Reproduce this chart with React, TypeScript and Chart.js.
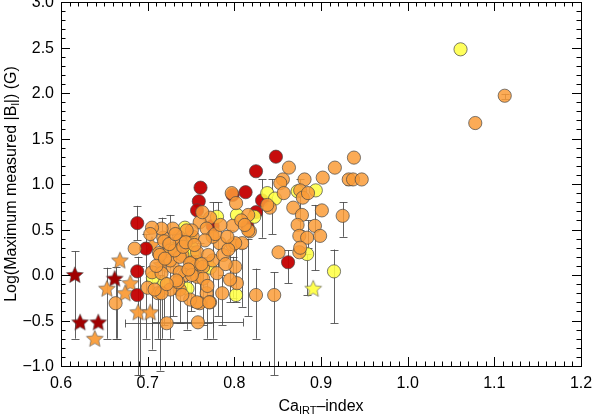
import React, { useEffect, useRef } from "react";
import { Chart, registerables } from "chart.js";

Chart.register(...registerables);

// ---- data (Ca_IRT-index, log max |B_l|) ----
const orangeX = [1.112, 1.078, 0.825, 0.846, 0.851, 0.875, 0.863, 0.856, 0.853, 0.857, 0.881, 0.876, 0.879, 0.885, 0.902, 0.916, 0.938, 0.932, 0.937, 0.947, 0.868, 0.878, 0.901, 0.925, 0.873, 0.893, 0.875, 0.884, 0.899, 0.876, 0.841, 0.818, 0.838, 0.797, 0.802, 0.816, 0.798, 0.816, 0.798, 0.809, 0.783, 0.772, 0.760, 0.763, 0.768, 0.775, 0.752, 0.736, 0.718, 0.729, 0.716, 0.705, 0.685, 0.663, 0.722, 0.758, 0.719, 0.737, 0.751, 0.713, 0.726, 0.740, 0.751, 0.729, 0.705, 0.716, 0.743, 0.755, 0.757, 0.726, 0.737, 0.749, 0.764, 0.775, 0.787, 0.801, 0.803, 0.795, 0.786, 0.768, 0.772, 0.760, 0.749, 0.737, 0.726, 0.712, 0.700, 0.714, 0.731, 0.741, 0.757, 0.770, 0.801, 0.780, 0.764, 0.751, 0.737, 0.735, 0.740, 0.757, 0.771, 0.716, 0.708, 0.745, 0.733, 0.747, 0.762, 0.790, 0.793, 0.722, 0.710, 0.725, 0.778, 0.784, 0.766, 0.744, 0.732, 0.720, 0.792, 0.808, 0.812, 0.703, 0.754, 0.769];
const orangeY = [1.97, 1.67, -0.22, -0.22, 0.25, 0.25, 1.18, 1.05, 1.01, 0.90, 1.05, 0.93, 0.85, 0.90, 1.07, 1.18, 1.29, 1.05, 1.05, 1.05, 0.74, 0.66, 0.71, 0.65, 0.55, 0.54, 0.43, 0.41, 0.43, 0.30, 0.74, 0.48, 0.77, 0.90, 0.79, 0.66, 0.54, 0.49, 0.33, 0.35, 0.35, 0.63, 0.58, 0.69, 0.51, 0.42, 0.42, 0.42, 0.41, 0.51, 0.51, 0.52, 0.29, -0.31, -0.53, -0.52, 0.37, 0.38, 0.49, 0.24, 0.27, 0.22, 0.14, 0.09, 0.03, 0.02, 0.00, 0.09, -0.02, 0.16, 0.20, 0.13, 0.09, 0.16, 0.22, 0.09, -0.09, -0.05, -0.20, -0.20, -0.30, -0.31, -0.27, -0.16, -0.16, -0.20, -0.14, 0.22, 0.27, 0.31, 0.25, 0.22, 0.35, 0.02, -0.04, 0.00, 0.03, -0.08, -0.22, -0.30, -0.30, -0.20, -0.16, 0.49, -0.06, 0.06, 0.12, 0.12, 0.28, -0.10, 0.10, 0.34, 0.45, 0.55, 0.38, 0.36, 0.45, 0.18, 0.42, 0.60, 0.55, 0.45, 0.33, -0.12];

const yellowX = [1.061, 0.915, 0.884, 0.838, 0.847, 0.873, 0.894, 0.823, 0.803, 0.780, 0.743, 0.749, 0.727, 0.719, 0.746, 0.802, 0.706, 0.751, 0.752, 0.756, 0.772];
const yellowY = [2.48, 0.04, 0.23, 0.90, 0.84, 0.92, 0.93, 0.64, 0.66, 0.64, 0.52, 0.41, 0.29, -0.09, -0.15, -0.22, -0.03, 0.30, 0.24, 0.14, 0.08];

const redX = [0.688, 0.698, 0.688, 0.688, 0.761, 0.759, 0.757, 0.775, 0.798, 0.813, 0.815, 0.825, 0.832, 0.825, 0.848, 0.862];
const redY = [0.57, 0.29, 0.04, -0.22, 0.96, 0.81, 0.71, 0.54, 0.88, 0.91, 0.54, 1.14, 0.82, 0.69, 1.30, 0.14];

const orangeStarX = [0.668, 0.653, 0.680, 0.674, 0.689, 0.703, 0.705, 0.639, 0.716];
const orangeStarY = [0.16, -0.15, -0.09, -0.20, -0.41, -0.41, 0.33, -0.70, 0.11];

const redStarX = [0.616, 0.622, 0.643, 0.662];
const redStarY = [0.00, -0.52, -0.52, -0.04];

const yellowStarX = [0.891];
const yellowStarY = [-0.15];

// vertical error bars: x, lower end, upper end
const errX = [0.616, 0.653, 0.663, 0.665, 0.688, 0.689, 0.691, 0.698, 0.705, 0.712, 0.714, 0.716, 0.719, 0.726, 0.737, 0.745, 0.755, 0.760, 0.768, 0.775, 0.781, 0.786, 0.795, 0.798, 0.802, 0.809, 0.816, 0.825, 0.846, 0.832, 0.843, 0.862, 0.884, 0.893, 0.885, 0.915, 0.925, 0.876, 0.932, 1.112, 0.729, 0.750, 0.764];
const errLow = [-0.70, -0.70, -0.70, -0.70, 0.38, -1.10, -1.10, -0.70, -0.82, -0.70, -1.05, -0.70, -0.55, -0.70, -0.53, -0.60, -0.35, -0.35, -0.70, -0.70, -0.45, -0.55, -0.30, -0.25, -0.30, -0.35, -0.45, -0.70, -1.10, 0.41, 0.45, -0.09, -0.22, 0.05, 0.30, -0.53, 0.42, 0.50, 0.99, 1.93, -0.45, -0.40, -0.55];
const errHigh = [0.26, 0.08, 0.09, -0.05, 0.76, 0.20, 0.10, 0.45, 0.10, 0.05, 0.00, 0.63, 0.20, 0.66, 0.10, 0.30, 0.20, 0.35, 0.20, 0.80, 0.80, 0.00, 0.50, 0.20, 0.40, 0.30, 0.40, 0.07, 0.03, 1.05, 1.05, 0.27, 0.23, 0.77, 0.60, 0.28, 0.80, 1.05, 1.11, 1.99, 0.10, 0.05, 0.15];

// horizontal error bars: y, left end, right end
const hErrY = [-0.53, -0.52];
const hErrLeft = [0.674, 0.705];
const hErrRight = [0.775, 0.810];

const xTickLabels = ["0.6", "0.7", "0.8", "0.9", "1.0", "1.1", "1.2"];
const yTickLabels = ["\u22121.0", "\u22120.5", "0.0", "0.5", "1.0", "1.5", "2.0", "2.5", "3.0"];

const ORANGE = "rgba(250,156,56,0.85)";
const YELLOW = "rgba(255,255,70,0.88)";
const RED = "rgba(196,0,0,0.95)";
const EDGE = "rgba(70,70,70,0.7)";
const FONT = "'Liberation Sans', Arial, sans-serif";
const FS = 16;
const SUB = 11;

function makeStar(fill: string): HTMLCanvasElement {
  const c = document.createElement("canvas");
  c.width = 20;
  c.height = 20;
  const ctx = c.getContext("2d")!;
  ctx.beginPath();
  const cx = 10, cy = 10.5, ro = 8.8, ri = 4.1;
  for (let i = 0; i < 10; i++) {
    const r = i % 2 === 0 ? ro : ri;
    const a = -Math.PI / 2 + (i * Math.PI) / 5;
    const px = cx + r * Math.cos(a);
    const py = cy + r * Math.sin(a);
    if (i === 0) ctx.moveTo(px, py);
    else ctx.lineTo(px, py);
  }
  ctx.closePath();
  ctx.fillStyle = fill;
  ctx.fill();
  ctx.strokeStyle = EDGE;
  ctx.lineWidth = 0.8;
  ctx.stroke();
  return c;
}

const pts = (xs: number[], ys: number[]) => xs.map((x, i) => ({ x, y: ys[i] }));

const framePlugin = {
  id: "idlFrame",
  beforeDatasetsDraw(chart: any) {
    const { ctx, scales } = chart;
    const xs = scales.x, ys = scales.y;
    ctx.save();
    ctx.strokeStyle = "rgba(70,70,70,0.85)";
    ctx.lineWidth = 1;
    const cap = 4;
    for (let i = 0; i < errX.length; i++) {
      const px = Math.round(xs.getPixelForValue(errX[i])) + 0.5;
      const p1 = ys.getPixelForValue(errLow[i]);
      const p2 = ys.getPixelForValue(errHigh[i]);
      ctx.beginPath();
      ctx.moveTo(px, p1);
      ctx.lineTo(px, p2);
      ctx.moveTo(px - cap, Math.round(p1) + 0.5);
      ctx.lineTo(px + cap, Math.round(p1) + 0.5);
      ctx.moveTo(px - cap, Math.round(p2) + 0.5);
      ctx.lineTo(px + cap, Math.round(p2) + 0.5);
      ctx.stroke();
    }
    for (let i = 0; i < hErrY.length; i++) {
      const py = Math.round(ys.getPixelForValue(hErrY[i])) + 0.5;
      const l = xs.getPixelForValue(hErrLeft[i]);
      const r = xs.getPixelForValue(hErrRight[i]);
      ctx.beginPath();
      ctx.moveTo(l, py);
      ctx.lineTo(r, py);
      ctx.moveTo(Math.round(l) + 0.5, py - cap);
      ctx.lineTo(Math.round(l) + 0.5, py + cap);
      ctx.moveTo(Math.round(r) + 0.5, py - cap);
      ctx.lineTo(Math.round(r) + 0.5, py + cap);
      ctx.stroke();
    }
    ctx.restore();
  },
  afterDraw(chart: any) {
    const { ctx, chartArea: a, scales } = chart;
    const xs = scales.x, ys = scales.y;
    ctx.save();
    ctx.strokeStyle = "#000";
    ctx.lineWidth = 1;
    ctx.strokeRect(Math.round(a.left) + 0.5, Math.round(a.top) + 0.5, Math.round(a.right - a.left), Math.round(a.bottom - a.top));
    const major = 9, minor = 4.5;
    ctx.beginPath();
    for (let k = 60; k <= 120; k++) {
      const v = k / 100;
      const px = Math.round(xs.getPixelForValue(v)) + 0.5;
      const len = k % 10 === 0 ? major : minor;
      ctx.moveTo(px, a.bottom);
      ctx.lineTo(px, a.bottom - len);
      ctx.moveTo(px, a.top);
      ctx.lineTo(px, a.top + len);
    }
    for (let k = -10; k <= 30; k++) {
      const v = k / 10;
      const py = Math.round(ys.getPixelForValue(v)) + 0.5;
      const len = k % 5 === 0 ? major : minor;
      ctx.moveTo(a.left, py);
      ctx.lineTo(a.left + len, py);
      ctx.moveTo(a.right, py);
      ctx.lineTo(a.right - len, py);
    }
    ctx.stroke();

    ctx.fillStyle = "#000";
    ctx.font = `${FS}px ${FONT}`;
    ctx.textAlign = "center";
    ctx.textBaseline = "alphabetic";
    xTickLabels.forEach((t) => {
      const px = xs.getPixelForValue(parseFloat(t));
      ctx.fillText(t, px, a.bottom + 22);
    });
    ctx.textAlign = "right";
    ctx.textBaseline = "middle";
    yTickLabels.forEach((t) => {
      const v = parseFloat(t.replace("\u2212", "-"));
      ctx.fillText(t, a.left - 7, ys.getPixelForValue(v) + 1);
    });

    ctx.textBaseline = "alphabetic";
    ctx.textAlign = "left";
    const s1 = "Ca", s2 = "IRT", s3 = "\u2013index";
    ctx.font = `${FS}px ${FONT}`;
    const w1 = ctx.measureText(s1).width;
    const w3 = ctx.measureText(s3).width;
    ctx.font = `${SUB}px ${FONT}`;
    const w2 = ctx.measureText(s2).width;
    const total = w1 + w2 + w3;
    let xx = (a.left + a.right) / 2 - total / 2;
    const by = a.bottom + 45;
    ctx.font = `${FS}px ${FONT}`;
    ctx.fillText(s1, xx, by);
    xx += w1;
    ctx.font = `${SUB}px ${FONT}`;
    ctx.fillText(s2, xx, by + 3);
    xx += w2;
    ctx.font = `${FS}px ${FONT}`;
    ctx.fillText(s3, xx, by);

    ctx.save();
    ctx.translate(15.5, (a.top + a.bottom) / 2);
    ctx.rotate(-Math.PI / 2);
    const t1 = "Log(Maximum measured |B", t2 = "l", t3 = "|) (G)";
    ctx.font = `${FS}px ${FONT}`;
    const u1 = ctx.measureText(t1).width;
    const u3 = ctx.measureText(t3).width;
    ctx.font = `${SUB}px ${FONT}`;
    const u2 = ctx.measureText(t2).width;
    let yy = -(u1 + u2 + u3) / 2;
    ctx.font = `${FS}px ${FONT}`;
    ctx.fillText(t1, yy, 0);
    yy += u1;
    ctx.font = `${SUB}px ${FONT}`;
    ctx.fillText(t2, yy, 3);
    yy += u2;
    ctx.font = `${FS}px ${FONT}`;
    ctx.fillText(t3, yy, 0);
    ctx.restore();

    ctx.restore();
  },
};

export default function App() {
  const ref = useRef<HTMLCanvasElement | null>(null);
  useEffect(() => {
    document.body.style.margin = "0";
    const canvas = ref.current!;
    const circle = (data: any, color: string) => ({
      data,
      pointStyle: "circle" as const,
      pointRadius: 6.6,
      backgroundColor: color,
      borderColor: EDGE,
      borderWidth: 1,
    });
    const star = (data: any, color: string) => ({
      data,
      pointStyle: makeStar(color) as any,
      pointRadius: 8,
      backgroundColor: color,
      borderColor: EDGE,
    });
    const chart = new Chart(canvas, {
      type: "scatter",
      data: {
        datasets: [
          circle(pts(orangeX, orangeY), ORANGE),
          circle(pts(yellowX, yellowY), YELLOW),
          circle(pts(redX, redY), RED),
          star(pts(orangeStarX, orangeStarY), "rgba(250,156,56,0.95)"),
          star(pts(redStarX, redStarY), "rgba(160,0,0,1)"),
          star(pts(yellowStarX, yellowStarY), "rgba(255,255,70,0.95)"),
        ],
      },
      options: {
        responsive: false,
        animation: false,
        layout: { autoPadding: false, padding: { left: 61, right: 17, top: 2, bottom: 52 } },
        plugins: { legend: { display: false }, tooltip: { enabled: false } },
        scales: {
          x: { type: "linear", min: 0.6, max: 1.2, display: false },
          y: { type: "linear", min: -1.0, max: 3.0, display: false },
        },
      },
      plugins: [framePlugin],
    });
    return () => chart.destroy();
  }, []);
  return <canvas ref={ref} width={598} height={418} style={{ display: "block" }} />;
}
